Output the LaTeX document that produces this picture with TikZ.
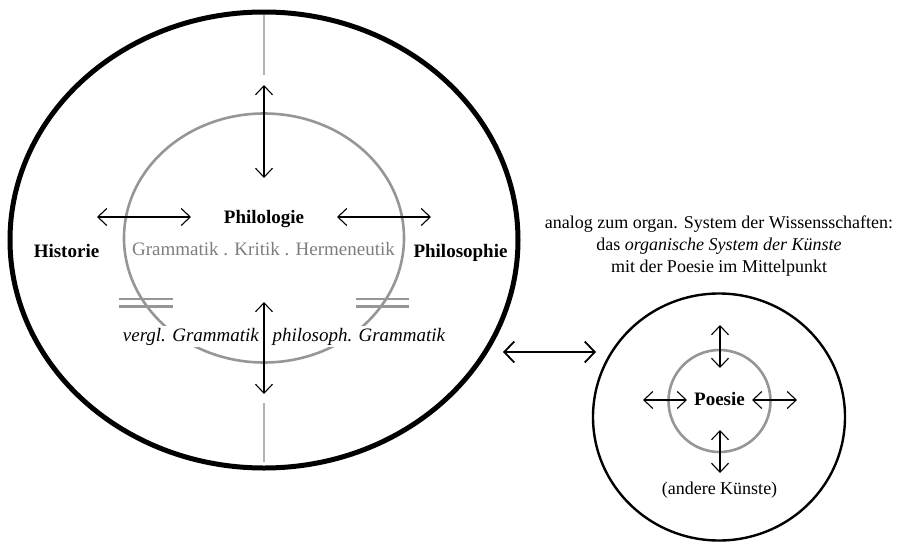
\documentclass[tikz,border=0pt]{standalone}
\usepackage{fontspec}
\setmainfont{Liberation Serif}
\usetikzlibrary{arrows.meta}
\usetikzlibrary{math}
\definecolor{circgrey}{RGB}{150,150,150}
\definecolor{linegrey}{RGB}{178,178,178}
\definecolor{textgrey}{RGB}{125,125,125}

\begin{document}
\begin{tikzpicture}[x=1pt,y=-1pt,font=\fontsize{18}{22}\selectfont,
  both/.style={{Straight Barb[length=9pt,width=17pt]}-{Straight Barb[length=9pt,width=17pt]},line width=1.1pt},
  bigboth/.style={{Straight Barb[length=10pt,width=21pt]}-{Straight Barb[length=10pt,width=21pt]},line width=1.8pt},
  lbl/.style={anchor=base,inner sep=2pt,font=\fontsize{19}{22}\selectfont}]
\tikzmath{
\cx=264;
\cy=240;
\sx=719;
\sy=417;
\ay=217;
\py=400;
}
\useasboundingbox (0,0) rectangle (897,541);

%large ellipse
\draw[line width=5pt] (\cx,\cy) ellipse [x radius=254, y radius=228];
\draw[circgrey,line width=2.6pt] (\cx,238) ellipse [x radius=140, y radius=124.5];
\draw[linegrey,line width=1.3pt] (\cx,15) -- (\cx,75);
\draw[linegrey,line width=1.3pt] (\cx,403) -- (\cx,462);

%equal signs
\draw[circgrey,line width=2.8pt] (119,299) -- (173,299) (119,306.5) -- (173,306.5);
\draw[circgrey,line width=2.8pt] (356,299) -- (409,299) (356,306.5) -- (409,306.5);

%labels
\node[lbl] (philologie) at (\cx,223) {\textbf{Philologie}};
\node[lbl,text=textgrey] (disziplinen) at (263.5,255) {Grammatik . Kritik . Hermeneutik};
\node[lbl] (historie) at (66.5,257) {\textbf{Historie}};
\node[lbl] (philosophie) at (460.5,257) {\textbf{Philosophie}};
\node[lbl,fill=white] (vergl) at (191,341) {\textit{vergl. Grammatik}};
\node[lbl,fill=white] (philos) at (359,341) {\textit{philosoph. Grammatik}};

%arrows
\coordinate (t1) at (\cx,85);
\coordinate (t2) at (\cx,178);
\coordinate (b1) at (\cx,302);
\coordinate (b2) at (\cx,394);
\coordinate (l1) at (97,\ay);
\coordinate (l2) at (191,\ay);
\coordinate (r1) at (337,\ay);
\coordinate (r2) at (431,\ay);
\draw[both] (t1) -- (t2);
\draw[both] (b1) -- (b2);
\draw[both] (l1) -- (l2);
\draw[both] (r1) -- (r2);

%link
\coordinate (k1) at (503,352);
\coordinate (k2) at (596,352);
\draw[bigboth] (k1) -- (k2);

%small circle
\node[align=center,anchor=north] (analog) at (719,212) {analog zum organ. System der Wissensschaften:\\das \textit{organische System der Künste}\\mit der Poesie im Mittelpunkt};
\draw[line width=2.4pt] (\sx,\sy) ellipse [x radius=126, y radius=123.5];
\draw[circgrey,line width=2.6pt] (719.5,401) circle [radius=51];
\node[lbl] (poesie) at (719.5,405) {\textbf{Poesie}};
\node[lbl,font=\fontsize{18}{22}\selectfont] (andere) at (719.5,494) {(andere Künste)};

\coordinate (pt1) at (720,325);
\coordinate (pt2) at (720,368);
\coordinate (pb1) at (720,430);
\coordinate (pb2) at (720,473);
\coordinate (pl1) at (643,\py);
\coordinate (pl2) at (687,\py);
\coordinate (pr1) at (752,\py);
\coordinate (pr2) at (797,\py);
\draw[both] (pt1) -- (pt2);
\draw[both] (pb1) -- (pb2);
\draw[both] (pl1) -- (pl2);
\draw[both] (pr1) -- (pr2);
\end{tikzpicture}
\end{document}
